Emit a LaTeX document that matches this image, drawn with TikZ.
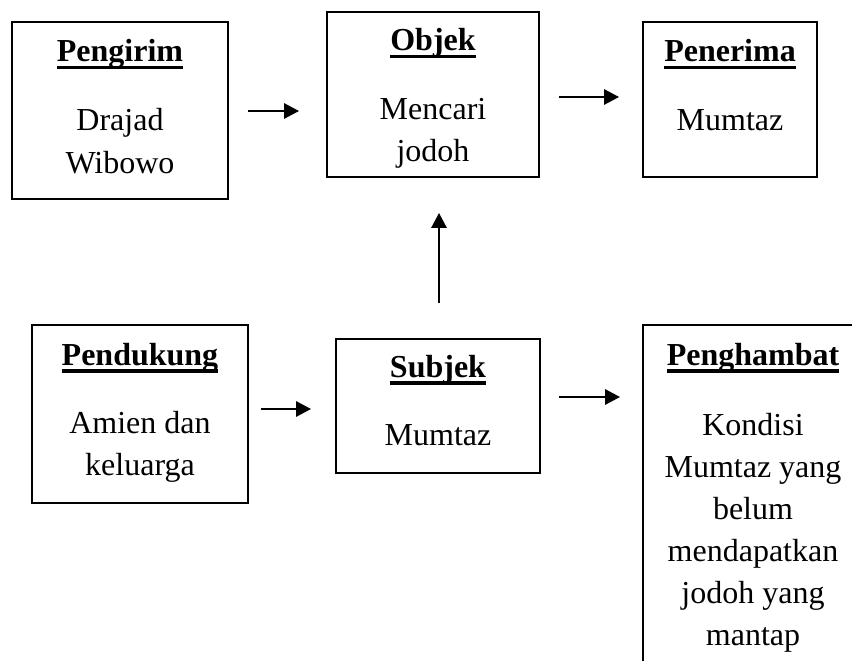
\documentclass[tikz,border=0pt]{standalone}
\usepackage{fontspec}
\setmainfont{Liberation Serif}
\usetikzlibrary{arrows.meta,calc}
\newcommand\ulbox[1]{\setbox0\hbox{#1}\rlap{\rule[-7.5pt]{\wd0}{3.5pt}}\box0}
\begin{document}
\begin{tikzpicture}[x=1pt,y=-1pt,
  box/.style={draw,line width=1.8pt,inner sep=0pt},
  ttl/.style={anchor=base,inner sep=0pt,font=\fontsize{32}{38}\selectfont\bfseries},
  txt/.style={anchor=base,inner sep=0pt,font=\fontsize{32}{38}\selectfont},
  arr/.style={line width=2.8pt,-{Triangle[length=15pt,width=15pt]}}]
\useasboundingbox (0,0) rectangle (852,661);
\clip (0,0) rectangle (852,661);
% boxes
\node[box,minimum width=216pt,minimum height=177pt] (peng) at (120,110.5) {};
\node[box,minimum width=212pt,minimum height=165pt] (obj) at (433,94.5) {};
\node[box,minimum width=174pt,minimum height=155pt] (pen) at (730,99.5) {};
\node[box,minimum width=216pt,minimum height=178pt] (pend) at (140,414) {};
\node[box,minimum width=204pt,minimum height=134pt] (subj) at (438,406) {};
\node[box,minimum width=400pt,minimum height=500pt] (ham) at (843,575) {};
% texts
\node[ttl] (peng-t) at (120,62) {\ulbox{Pengirim}};
\node[txt] (peng-1) at (120,130) {Drajad};
\node[txt] (peng-2) at (120,173) {Wibowo};
\node[ttl] (obj-t) at (433,51) {\ulbox{Objek}};
\node[txt] (obj-1) at (433,120) {Mencari};
\node[txt] (obj-2) at (433,161) {jodoh};
\node[ttl] (pen-t) at (730,62) {\ulbox{Penerima}};
\node[txt] (pen-1) at (730,130) {Mumtaz};
\node[ttl] (pend-t) at (140,365) {\ulbox{Pendukung}};
\node[txt] (pend-1) at (140,433) {Amien dan};
\node[txt] (pend-2) at (140,475) {keluarga};
\node[ttl] (subj-t) at (438,377) {\ulbox{Subjek}};
\node[txt] (subj-1) at (438,445) {Mumtaz};
\node[ttl] (ham-t) at (753,365) {\ulbox{Penghambat}};
\node[txt] (ham-1) at (753,435) {Kondisi};
\node[txt] (ham-2) at (753,477) {Mumtaz yang};
\node[txt] (ham-3) at (753,519) {belum};
\node[txt] (ham-4) at (753,561) {mendapatkan};
\node[txt] (ham-5) at (753,603) {jodoh yang};
\node[txt] (ham-6) at (753,645) {mantap};
% arrow anchors
\coordinate (a1) at ($(peng.east)+(0,0.5)$);
\coordinate (a2) at ($(obj.east)+(0,2.5)$);
\coordinate (a3) at ($(pend.east)+(0,-5)$);
\coordinate (a4) at ($(subj.east)+(0,-9)$);
\coordinate (a5) at ($(subj.north)+(1,0)$);
% arrows
\draw[arr,shorten <=19pt,shorten >=27pt] (a1) -- (a1 -| obj.west);
\draw[arr,shorten <=19pt,shorten >=23pt] (a2) -- (a2 -| pen.west);
\draw[arr,shorten <=12pt,shorten >=24pt] (a3) -- (a3 -| subj.west);
\draw[arr,shorten <=18pt,shorten >=22pt] (a4) -- (a4 -| ham.west);
\draw[arr,shorten <=35pt,shorten >=35pt] (a5) -- (a5 |- obj.south);
\end{tikzpicture}
\end{document}
